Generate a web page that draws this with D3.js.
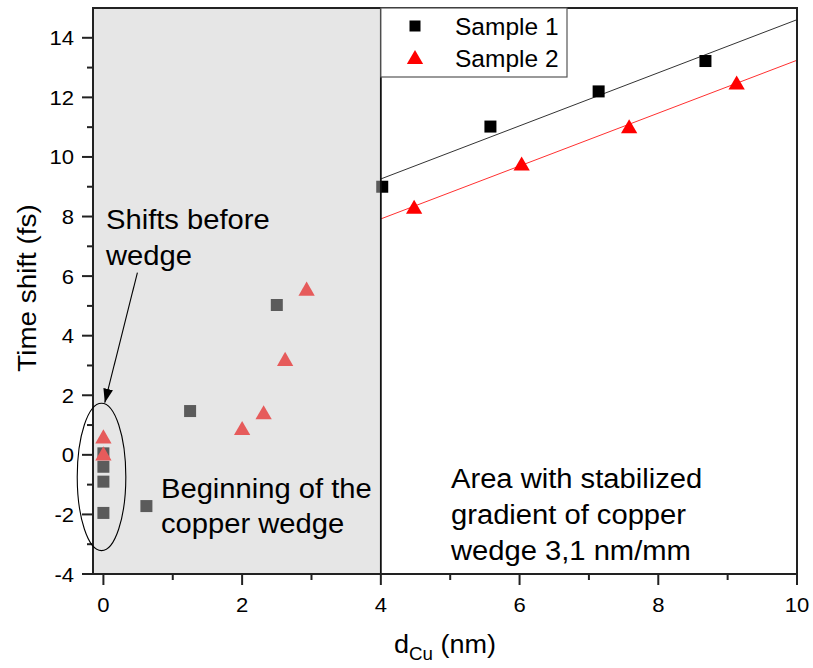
<!DOCTYPE html>
<html><head><meta charset="utf-8">
<script src="https://cdn.jsdelivr.net/npm/d3@7"></script>
<style>body{margin:0;background:#fff}svg{display:block}text{font-family:"Liberation Sans",Arial,sans-serif;fill:#000}</style>
</head><body><div id="chart"></div>
<script>
// ---- data ----
const sample1X = [0, 0, 0, 0, 0.62, 1.25, 2.5, 4.02, 5.58, 7.14, 8.68];
const sample1Y = [-1.95, -0.9, -0.4, 0.05, -1.72, 1.47, 5.03, 9.0, 11.02, 12.2, 13.22];
const sample2X = [0, 0, 2.0, 2.31, 2.62, 2.93, 4.48, 6.03, 7.58, 9.13];
const sample2Y = [0.62, 0.05, 0.9, 1.43, 3.22, 5.58, 8.33, 9.78, 11.03, 12.5];
const seriesNames = ["Sample 1", "Sample 2"];
const xMajorTicks = [0, 2, 4, 6, 8, 10];
const xMinorTicks = [1, 3, 5, 7, 9];
const yMajorTicks = [-4, -2, 0, 2, 4, 6, 8, 10, 12, 14];
const yMinorTicks = [-3, -1, 1, 3, 5, 7, 9, 11, 13];
const shadedRange = [-0.15, 4];
const fitRange = [4, 10];

// ---- layout ----
const W = 813, H = 668;
const L = 93, R = 797, T = 8, B = 574;

const svg = d3.select("#chart").append("svg").attr("width", W).attr("height", H);
const x = d3.scaleLinear().domain([-0.15, 10]).range([L, R]);
const y = d3.scaleLinear().domain([-4, 15]).range([B, T]);

function txt(g, px, py, s, size, anchor, sx, rot) {
  const t = g.append("text")
    .attr("transform", `translate(${px},${py})` + (rot ? ` rotate(${rot})` : "") + ` scale(${sx || 1},1)`)
    .attr("font-size", size).attr("text-anchor", anchor || "start");
  if (s !== null) t.text(s);
  return t;
}

const s1 = sample1X.map((v, i) => ({x: v, y: sample1Y[i]}));
const s2 = sample2X.map((v, i) => ({x: v, y: sample2Y[i]}));

// linear fits on the stabilized area
function fit(pts) {
  const p = pts.filter(d => d.x >= 4);
  const mx = d3.mean(p, d => d.x), my = d3.mean(p, d => d.y);
  const sxy = d3.sum(p, d => (d.x - mx) * (d.y - my)), sxx = d3.sum(p, d => (d.x - mx) ** 2);
  const k = sxy / sxx, b = my - k * mx;
  return fitRange.map(v => ({x: v, y: k * v + b}));
}
const line = d3.line().x(d => x(d.x)).y(d => y(d.y));
svg.append("path").attr("d", line(fit(s1))).attr("stroke", "#333").attr("stroke-width", 1).attr("fill", "none");
svg.append("path").attr("d", line(fit(s2))).attr("stroke", "#ff3030").attr("stroke-width", 1).attr("fill", "none");

// markers
const sq = 12;
svg.append("g").selectAll("rect").data(s1).join("rect")
  .attr("x", d => x(d.x) - sq / 2).attr("y", d => y(d.y) - sq / 2)
  .attr("width", sq).attr("height", sq).attr("fill", "#000");
const triType = {draw(ctx, size) {
  const s = Math.sqrt(size * 4 / Math.sqrt(3)), h = s * Math.sqrt(3) / 2;
  ctx.moveTo(0, -h / 2); ctx.lineTo(s / 2, h / 2); ctx.lineTo(-s / 2, h / 2); ctx.closePath();
}};
const tri = d3.symbol().type(triType).size(115);
svg.append("g").selectAll("path").data(s2).join("path")
  .attr("transform", d => `translate(${x(d.x)},${y(d.y)})`)
  .attr("d", tri).attr("fill", "#ff0000");

// shaded overlay
svg.append("rect").attr("x", x(shadedRange[0])).attr("y", T)
  .attr("width", x(shadedRange[1]) - x(shadedRange[0])).attr("height", B - T)
  .attr("fill", "rgb(200,200,200)").attr("fill-opacity", 0.455);
svg.append("line").attr("x1", x(4)).attr("x2", x(4)).attr("y1", T).attr("y2", B)
  .attr("stroke", "#111").attr("stroke-width", 1.8);

// frame
svg.append("rect").attr("x", L).attr("y", T).attr("width", R - L).attr("height", B - T)
  .attr("fill", "none").attr("stroke", "#222").attr("stroke-width", 2);

// ticks
const ax = svg.append("g").attr("stroke", "#222").attr("stroke-width", 2);
ax.selectAll(".xM").data(xMajorTicks).join("line").attr("class","xM").attr("x1", d => x(d)).attr("x2", d => x(d)).attr("y1", B).attr("y2", B + 11);
ax.selectAll(".xm").data(xMinorTicks).join("line").attr("class","xm").attr("x1", d => x(d)).attr("x2", d => x(d)).attr("y1", B).attr("y2", B + 6);
ax.selectAll(".yM").data(yMajorTicks).join("line").attr("class","yM").attr("y1", d => y(d)).attr("y2", d => y(d)).attr("x1", L).attr("x2", L - 11);
ax.selectAll(".ym").data(yMinorTicks).join("line").attr("class","ym").attr("y1", d => y(d)).attr("y2", d => y(d)).attr("x1", L).attr("x2", L - 6);

xMajorTicks.forEach(v => txt(svg, x(v), B + 38, String(v), 21, "middle", 1.05));
yMajorTicks.forEach(v => txt(svg, 74, y(v) + 7.5, String(v), 21, "end", 1.05));

// axis titles
txt(svg, 36, 288, "Time shift (fs)", 26.5, "middle", 1.05, -90);
const xl = txt(svg, (L + R) / 2, 653, null, 26, "middle", 1.04);
xl.append("tspan").text("d");
xl.append("tspan").attr("font-size", 18).attr("dy", 7).text("Cu");
xl.append("tspan").attr("dy", -7).text(" (nm)");

// annotations
const AS = 1.08;
const ann = svg.append("g");
ann.append("ellipse").attr("cx", x(-0.027)).attr("cy", y(-0.74)).attr("rx", 24.3).attr("ry", 73.7)
  .attr("fill", "none").attr("stroke", "#000").attr("stroke-width", 1.1);
svg.append("defs").append("marker").attr("id", "ah").attr("viewBox", "0 0 10 10")
  .attr("refX", 10).attr("refY", 5).attr("markerWidth", 14).attr("markerHeight", 14)
  .attr("markerUnits", "userSpaceOnUse").attr("orient", "auto")
  .append("path").attr("d", "M0,1.5 L10,5 L0,8.5 Z").attr("fill", "#000");
ann.append("line").attr("x1", x(0.49)).attr("y1", y(6.12)).attr("x2", x(0.02)).attr("y2", y(1.75))
  .attr("stroke", "#000").attr("stroke-width", 1.1).attr("marker-end", "url(#ah)");
txt(ann, 106, 229, "Shifts before", 27, "start", AS);
txt(ann, 106, 265, "wedge", 27, "start", AS);
txt(ann, 161, 498, "Beginning of the", 27, "start", AS);
txt(ann, 161, 533, "copper wedge", 27, "start", AS);
txt(ann, 451, 488, "Area with stabilized", 27, "start", AS);
txt(ann, 451, 524, "gradient of copper", 27, "start", AS);
txt(ann, 451, 560, "wedge 3,1 nm/mm", 27, "start", AS);

// legend
const lg = svg.append("g");
lg.append("rect").attr("x", x(4)).attr("y", T).attr("width", 567 - x(4)).attr("height", 77 - T)
  .attr("fill", "#fff").attr("stroke", "#555").attr("stroke-width", 1.2);
lg.append("rect").attr("x", 415 - 5.5).attr("y", 26 - 5.5).attr("width", 11).attr("height", 11).attr("fill", "#000");
lg.append("path").attr("transform", "translate(415,57)").attr("d", tri).attr("fill", "#ff0000");
txt(lg, 455, 35, seriesNames[0], 24.5, "start", 1.0);
txt(lg, 455, 67, seriesNames[1], 24.5, "start", 1.0);
</script></body></html>
